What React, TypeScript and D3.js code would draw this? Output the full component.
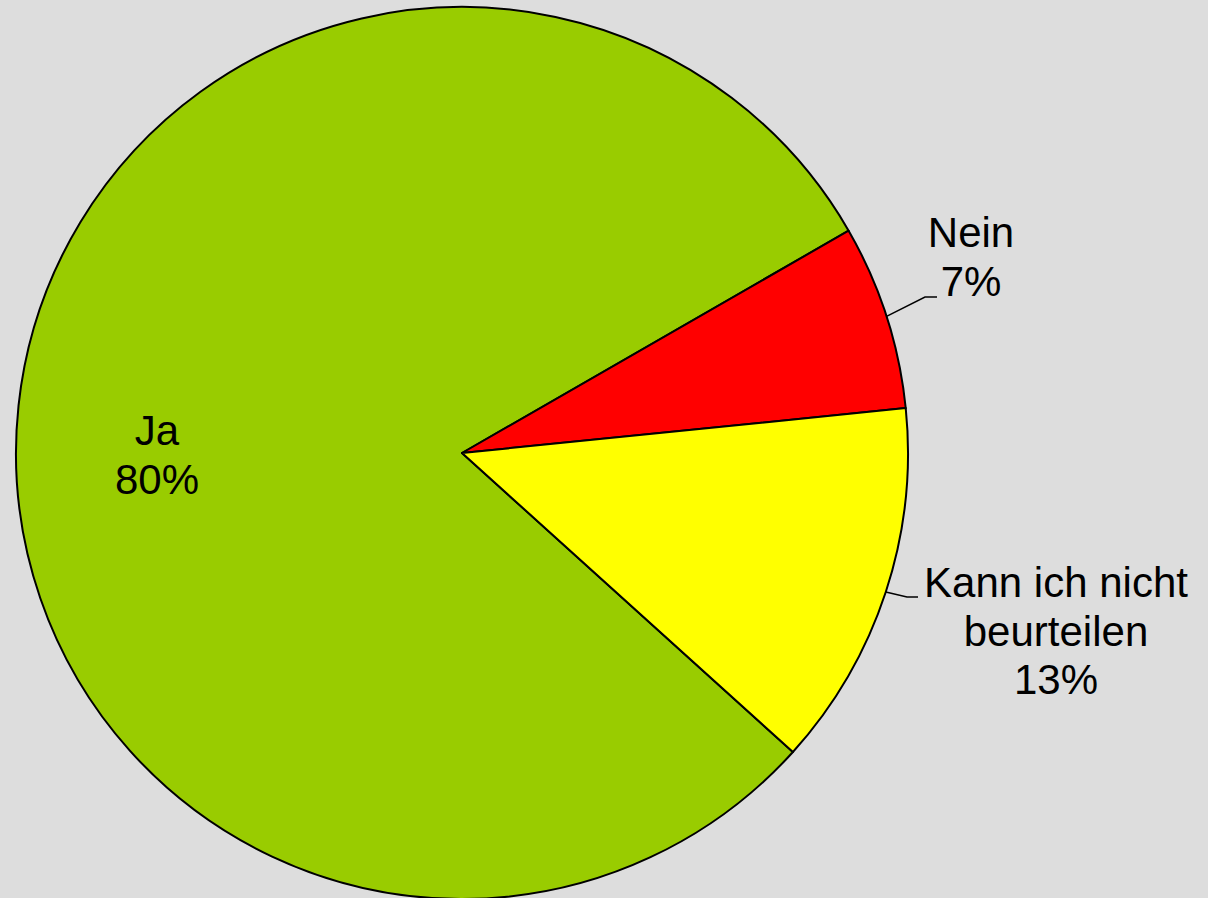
import React from "react";
import * as d3 from "d3";

const categories = ["Ja", "Nein", "Kann ich nicht beurteilen"];
const values = [80, 6.7, 13.3];
const percentLabels = ["80%", "7%", "13%"];
const labelLines = [["Ja"], ["Nein"], ["Kann ich nicht", "beurteilen"]];
const colors = ["#99CC00", "#FF0000", "#FFFF00"];

const W = 1208;
const H = 898;
const cx = 462;
const cy = 453;
const R = 446;
const fontSize = 42;
const lineH = 48.5;

// label layout: inside (no leader) or outside with elbow
const labelLayout = [
  { inside: true, x: 157, y: 445 },
  { inside: false, elbow: [925, 297], end: [937, 297], x: 971, y: 247 },
  { inside: false, elbow: [907, 597], end: [918, 597], x: 1056, y: 597 },
];

export default function App() {
  const pie = d3
    .pie<number>()
    .sort(null)
    .value((d) => d)
    .startAngle((132.1 * Math.PI) / 180)
    .endAngle((132.1 * Math.PI) / 180 + 2 * Math.PI);
  const arcs = pie(values);
  const arc = d3.arc<d3.PieArcDatum<number>>().innerRadius(0).outerRadius(R);

  return (
    <svg
      width={W}
      height={H}
      style={{ position: "absolute", left: 0, top: 0, background: "#DDDDDD" }}
      fontFamily="'Liberation Sans', Arial, sans-serif"
    >
      <rect x={0} y={0} width={W} height={H} fill="#DDDDDD" />
      <g transform={`translate(${cx},${cy})`}>
        {arcs.map((a, i) => (
          <path
            key={i}
            d={arc(a) || ""}
            fill={colors[i]}
            stroke="#000"
            strokeWidth={2}
            strokeLinejoin="round"
          />
        ))}
      </g>
      {arcs.map((a, i) => {
        const L = labelLayout[i];
        const mid = (a.startAngle + a.endAngle) / 2;
        const sx = cx + R * Math.sin(mid);
        const sy = cy - R * Math.cos(mid);
        const lines = [...labelLines[i], percentLabels[i]];
        return (
          <g key={"l" + i}>
            {!L.inside && L.elbow && L.end && (
              <polyline
                points={`${sx},${sy} ${L.elbow[0]},${L.elbow[1]} ${L.end[0]},${L.end[1]}`}
                fill="none"
                stroke="#000"
                strokeWidth={1.5}
              />
            )}
            <text textAnchor="middle" fontSize={fontSize} fill="#000">
              {lines.map((t, j) => (
                <tspan key={j} x={L.x} y={L.y + j * lineH}>
                  {t}
                </tspan>
              ))}
            </text>
          </g>
        );
      })}
    </svg>
  );
}
